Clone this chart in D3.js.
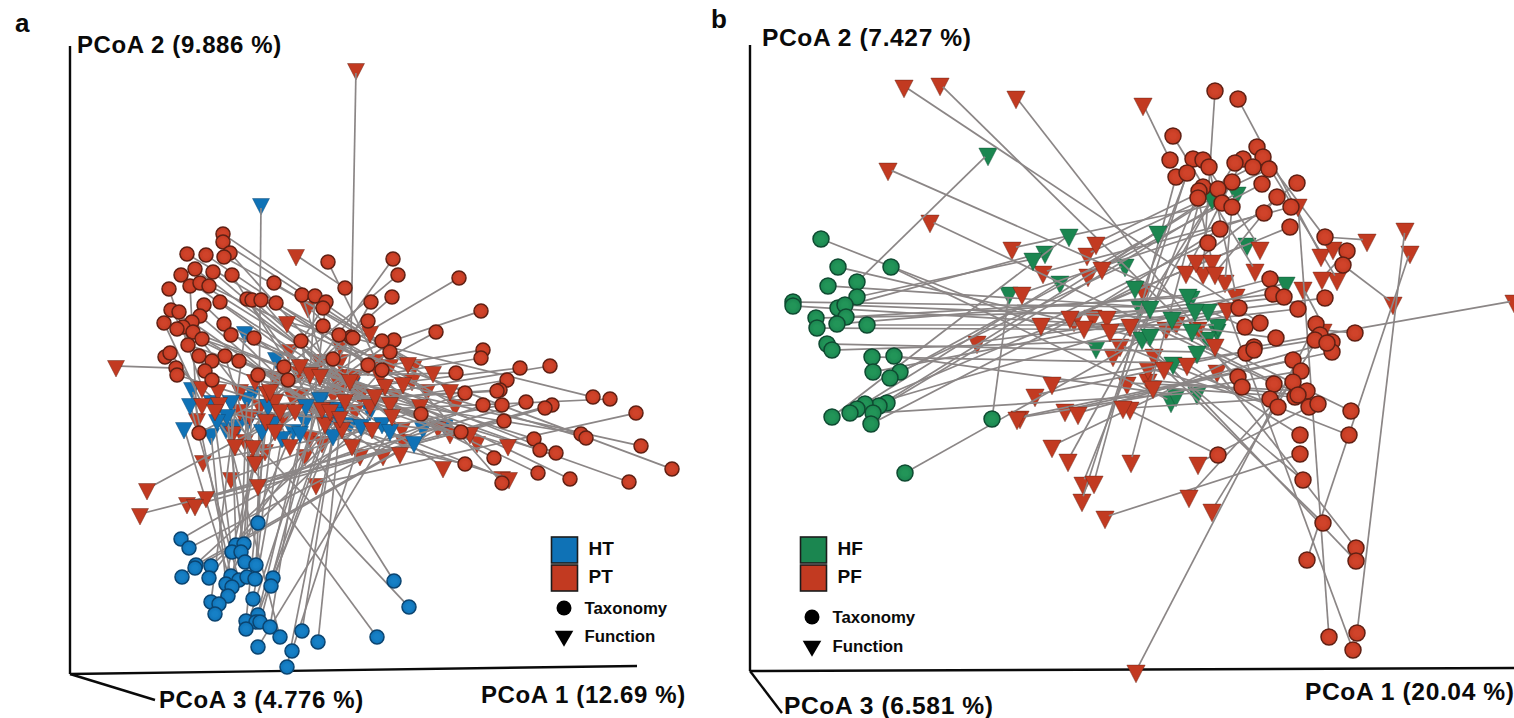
<!DOCTYPE html>
<html>
<head>
<meta charset="utf-8">
<script src="https://cdnjs.cloudflare.com/ajax/libs/d3/7.8.5/d3.min.js"></script>
<style>
  html, body { margin: 0; padding: 0; background: #fff; overflow: hidden; }
  text { font-family: "Liberation Sans", Arial, sans-serif; font-weight: bold; fill: #0a0a0a; }
</style>
</head>
<body>
<div id="canvas"></div>
<script>
// axis titles, one list per panel: vertical, depth, horizontal
var axisTitlesA = ["PCoA 2 (9.886 %)", "PCoA 3 (4.776 %)", "PCoA 1 (12.69 %)"];
var axisTitlesB = ["PCoA 2 (7.427 %)", "PCoA 3 (6.581 %)", "PCoA 1 (20.04 %)"];
var legendA = ["HT", "PT"];
var legendB = ["HF", "PF"];
var shapeNames = ["Taxonomy", "Function"];

// scores as [PCoA 1, PCoA 2], in units along each drawn axis.
// taxonomy and function lists run in the same order, entry i of one joins entry i of the other
var htTaxonomy = [[188,151],[111,135],[119,126],[166,129],[174,130],[162,122],[171,122],[175,112],[186,109],[126,109],[125,106],[141,108],[112,97],[139,96],[161,98],[169,94],[177,97],[185,95],[203,96],[201,88],[156,90],[162,87],[158,78],[183,75],[141,72],[149,70],[145,60],[324,93],[339,67],[307,37],[188,59],[176,53],[186,52],[190,52],[176,45],[200,47],[210,37],[232,43],[248,32],[188,27],[222,23],[217,7]];
var htFunction = [[191,470],[312,251],[353,246],[161,273],[183,282],[142,273],[177,276],[157,259],[194,256],[344,232],[375,249],[291,249],[280,251],[268,266],[122,286],[120,270],[178,254],[203,252],[282,291],[265,266],[141,240],[114,246],[206,316],[212,237],[175,342],[192,244],[223,244],[230,242],[168,249],[147,254],[258,254],[198,269],[235,254],[250,276],[252,277],[236,269],[156,246],[267,261],[270,249],[320,244],[300,264],[263,239]];

var ptTaxonomy = [[153,440],[153,432],[160,421],[117,420],[136,419],[154,417],[125,405],[143,402],[111,399],[162,399],[120,388],[130,391],[139,388],[204,391],[258,412],[275,386],[323,415],[99,385],[232,379],[245,378],[256,372],[253,366],[301,372],[322,377],[328,399],[177,375],[182,374],[191,374],[206,371],[150,372],[134,369],[101,364],[109,362],[130,358],[122,352],[113,347],[107,345],[94,351],[154,350],[161,339],[123,342],[132,335],[253,348],[298,353],[281,337],[269,339],[324,334],[312,333],[118,329],[184,336],[231,333],[95,317],[100,321],[129,318],[155,318],[169,313],[142,313],[106,306],[107,299],[135,303],[142,294],[389,396],[411,363],[366,342],[413,324],[411,316],[450,306],[480,308],[386,301],[437,294],[430,284],[427,283],[395,281],[523,277],[540,275],[413,269],[432,269],[456,272],[482,269],[475,266],[566,261],[434,253],[351,260],[511,240],[516,236],[464,235],[391,242],[571,228],[470,224],[486,221],[424,216],[395,210],[602,205],[468,201],[500,195],[559,192],[432,191],[214,307],[218,294],[188,299],[263,315],[298,309],[312,304],[320,322],[129,241],[283,336]];
var ptFunction = [[344,309],[338,311],[270,299],[333,291],[298,309],[363,302],[288,284],[300,269],[270,284],[255,251],[127,255],[320,271],[357,284],[380,284],[306,314],[226,419],[223,277],[132,287],[263,281],[240,301],[240,237],[197,282],[242,269],[205,274],[205,297],[272,246],[332,246],[302,246],[385,269],[322,259],[290,219],[148,284],[170,284],[282,229],[313,219],[330,221],[333,234],[132,270],[368,247],[350,269],[407,232],[400,241],[219,324],[300,342],[286,605],[252,266],[211,254],[196,254],[380,241],[373,207],[252,232],[149,271],[163,242],[183,228],[186,214],[438,229],[432,197],[46,308],[439,196],[225,264],[285,264],[200,284],[230,302],[77,185],[320,309],[310,299],[230,279],[210,264],[285,299],[260,264],[190,269],[275,274],[161,196],[217,352],[180,259],[188,189],[133,213],[136,177],[117,171],[125,169],[246,190],[70,160],[238,367],[185,294],[250,314],[280,294],[170,264],[250,299],[290,279],[315,289],[265,299],[145,264],[270,329],[305,279],[325,279],[230,309],[342,294],[185,212],[175,234],[220,229],[195,224],[165,229],[235,219],[205,244],[270,314],[270,257]];

var hfTaxonomy = [[71,432],[88,404],[141,404],[78,385],[107,389],[107,374],[43,369],[43,365],[88,363],[95,366],[96,354],[66,353],[67,343],[87,347],[117,346],[77,327],[82,321],[122,314],[144,315],[123,299],[150,299],[140,293],[137,268],[129,265],[115,267],[107,262],[100,258],[82,254],[123,258],[121,247],[242,252],[155,198]];
var hfFunction = [[346,324],[392,333],[421,270],[400,364],[238,517],[283,412],[390,364],[442,341],[295,419],[422,353],[441,374],[458,361],[467,341],[438,376],[468,346],[447,319],[457,333],[423,308],[426,276],[445,361],[375,406],[408,439],[487,478],[462,473],[497,427],[536,388],[310,389],[319,436],[447,278],[385,384],[259,378],[400,336]];

var pfTaxonomy = [[465,580],[488,572],[423,535],[420,511],[443,512],[453,511],[459,504],[426,494],[437,498],[507,524],[513,514],[493,512],[485,508],[503,504],[519,502],[482,489],[512,487],[547,488],[453,484],[468,482],[449,480],[448,473],[472,468],[527,474],[541,464],[514,458],[482,464],[540,444],[470,442],[458,428],[575,434],[597,420],[593,406],[520,392],[523,377],[534,374],[575,373],[548,362],[489,363],[566,347],[495,344],[510,348],[526,333],[570,336],[582,329],[605,338],[504,324],[496,318],[504,321],[565,331],[582,319],[577,328],[543,311],[551,300],[488,294],[492,284],[524,287],[543,289],[557,280],[545,274],[548,276],[520,272],[528,264],[559,264],[568,267],[601,260],[599,236],[550,236],[550,217],[468,216],[553,191],[573,148],[606,123],[606,110],[557,111],[579,34],[607,38],[603,21]];
var pfFunction = [[453,398],[571,416],[505,401],[393,567],[393,381],[510,423],[486,376],[344,189],[332,171],[583,423],[587,392],[436,399],[363,316],[346,428],[337,417],[352,403],[338,396],[446,410],[381,210],[318,211],[333,188],[462,410],[262,423],[465,398],[293,399],[272,378],[475,390],[320,354],[324,351],[291,347],[617,431],[572,393],[643,368],[334,344],[343,355],[357,354],[227,329],[360,341],[426,348],[386,0],[138,502],[154,585],[448,343],[462,161],[553,383],[573,341],[764,370],[302,225],[285,276],[302,288],[315,261],[328,258],[270,254],[267,253],[190,587],[266,574],[180,450],[439,175],[377,288],[403,284],[398,291],[380,263],[398,303],[448,208],[416,343],[465,326],[370,326],[437,307],[355,154],[373,264],[404,316],[414,303],[467,300],[380,346],[660,419],[548,466],[655,442],[477,362]];

// colours of the groups: fill, outline
var blue = { fill: "#0f72b6", line: "#0b4470", light: "#1680c6" };
var red = { fill: "#c23a21", line: "#5f2014", light: "#d0432a" };
var green = { fill: "#1b8650", line: "#0f4a31", light: "#229558" };
var lineGrey = "#8b8686";

var svg = d3.select("#canvas")
    .append("svg")
    .attr("width", 1514)
    .attr("height", 718)
    .style("display", "block")
    .style("background-color", "#fff");

// soft shading of the spheres
var defs = svg.append("defs");
[["blue", blue], ["red", red], ["green", green]].forEach(function(c) {
    var grad = defs.append("radialGradient").attr("id", "ball-" + c[0]);
    grad.append("stop").attr("offset", "35%").attr("stop-color", c[1].light);
    grad.append("stop").attr("offset", "100%").attr("stop-color", c[1].fill);
});

var triangle = d3.symbol().type(d3.symbolTriangle);

// draws the triangles, joining lines and circles of one panel
function drawPanel(p) {
    var x = d3.scaleLinear().domain(p.xDomain).range([p.origin[0], p.xEnd[0]]);
    var y = d3.scaleLinear().domain(p.yDomain).range([p.origin[1], p.yEnd]);
    var g = svg.append("g");

    // axes of the 3d box
    var axes = g.append("g").attr("stroke", "#0a0a0a").attr("stroke-width", 2.4);
    axes.append("line").attr("x1", p.origin[0]).attr("y1", p.yEnd).attr("x2", p.origin[0]).attr("y2", p.origin[1]);
    axes.append("line").attr("x1", p.origin[0]).attr("y1", p.origin[1]).attr("x2", p.xEnd[0]).attr("y2", p.xEnd[1]);
    axes.append("line").attr("x1", p.origin[0]).attr("y1", p.origin[1]).attr("x2", p.zEnd[0]).attr("y2", p.zEnd[1]);

    // the original is a 3d view, so some function markers sit behind the lines and some in front
    function drawTriangles(s, keep) {
        g.append("g").selectAll("path")
            .data(s.functions.filter(function(d, i) { return i % 2 == keep; }))
            .enter()
            .append("path")
            .attr("d", triangle.size(p.triSize))
            .attr("transform", function(d) { return "translate(" + x(d[0]) + "," + y(d[1]) + ") rotate(180) scale(1,1.12)"; })
            .attr("fill", s.color.fill)
            .attr("stroke", s.color.line)
            .attr("stroke-opacity", 0.5)
            .attr("stroke-width", 0.8);
    }

    p.groups.forEach(function(s) { drawTriangles(s, 0); });

    // lines stop at the edge of their markers
    p.groups.forEach(function(s) {
        var pairs = d3.zip(s.taxonomy, s.functions);
        g.append("g").selectAll("line")
            .data(pairs)
            .enter()
            .append("line")
            .attr("stroke", lineGrey)
            .attr("stroke-width", 1.7)
            .each(function(d) {
                var x1 = x(d[0][0]), y1 = y(d[0][1]), x2 = x(d[1][0]), y2 = y(d[1][1]);
                var len = Math.hypot(x2 - x1, y2 - y1) || 1;
                var cut = Math.min(p.radius - 1, len / 2), cut2 = Math.min(4, len / 2);
                d3.select(this)
                    .attr("x1", x1 + (x2 - x1) * cut / len)
                    .attr("y1", y1 + (y2 - y1) * cut / len)
                    .attr("x2", x2 - (x2 - x1) * cut2 / len)
                    .attr("y2", y2 - (y2 - y1) * cut2 / len);
            });
    });

    p.groups.forEach(function(s) { drawTriangles(s, 1); });

    // taxonomy markers on top
    p.groups.forEach(function(s) {
        g.append("g").selectAll("circle")
            .data(s.taxonomy)
            .enter()
            .append("circle")
            .attr("cx", function(d) { return x(d[0]); })
            .attr("cy", function(d) { return y(d[1]); })
            .attr("r", p.radius)
            .attr("fill", "url(#ball-" + s.name + ")")
            .attr("stroke", s.color.line)
            .attr("stroke-width", 1.5);
    });

    // panel letter and axis titles
    g.append("text").attr("x", p.letter[0]).attr("y", p.letter[1]).style("font-size", "26px").text(p.letter[2]);
    g.selectAll(".axis-title")
        .data(p.titles)
        .enter()
        .append("text")
        .attr("class", "axis-title")
        .attr("x", function(d, i) { return p.titlePos[i][0]; })
        .attr("y", function(d, i) { return p.titlePos[i][1]; })
        .style("font-size", p.titleSize)
        .style("letter-spacing", "0.6px")
        .text(function(d) { return d; });

    // legend: group swatches then marker shapes
    var lg = g.append("g");
    lg.selectAll("rect")
        .data(p.legend)
        .enter()
        .append("rect")
        .attr("x", p.legendX)
        .attr("y", function(d, i) { return 537 + i * 28; })
        .attr("width", 26)
        .attr("height", 26)
        .attr("fill", function(d, i) { return p.legendColors[i].fill; })
        .attr("stroke", "#1c1c1c")
        .attr("stroke-width", 1.6);
    lg.selectAll(".group-name")
        .data(p.legend)
        .enter()
        .append("text")
        .attr("class", "group-name")
        .attr("x", p.legendX + 37)
        .attr("y", function(d, i) { return 555 + i * 27.5; })
        .style("font-size", "19px")
        .text(function(d) { return d; });
    lg.append("circle").attr("cx", p.shapeX).attr("cy", p.shapeY[0]).attr("r", 7.5).attr("fill", "#000");
    lg.append("path")
        .attr("d", triangle.size(150))
        .attr("transform", "translate(" + p.shapeX + "," + p.shapeY[1] + ") rotate(180)")
        .attr("fill", "#000");
    lg.selectAll(".shape-name")
        .data(shapeNames)
        .enter()
        .append("text")
        .attr("class", "shape-name")
        .attr("x", p.shapeX + 20.5)
        .attr("y", function(d, i) { return p.shapeY[i] + 5.5; })
        .style("font-size", "16.8px")
        .text(function(d) { return d; });
}

drawPanel({
    origin: [70, 674], xEnd: [637, 666], yEnd: 46, zEnd: [155, 700],
    xDomain: [0, 567], yDomain: [0, 628],
    radius: 7, triSize: 125,
    letter: [15, 32, "a"],
    titles: axisTitlesA, titleSize: "24px",
    titlePos: [[77, 53], [159, 708], [481, 703]],
    legend: legendA, legendColors: [blue, red], legendX: 551.5, shapeX: 564, shapeY: [608, 636],
    groups: [
        { name: "blue", color: blue, taxonomy: htTaxonomy, functions: htFunction },
        { name: "red", color: red, taxonomy: ptTaxonomy, functions: ptFunction }
    ]
});

drawPanel({
    origin: [750, 671], xEnd: [1514, 668], yEnd: 45, zEnd: [782, 713],
    xDomain: [0, 764], yDomain: [0, 626],
    radius: 8, triSize: 145,
    letter: [711, 28, "b"],
    titles: axisTitlesB, titleSize: "24.6px",
    titlePos: [[762, 46], [784, 714], [1305, 700]],
    legend: legendB, legendColors: [green, red], legendX: 800.5, shapeX: 812, shapeY: [617, 646],
    groups: [
        { name: "green", color: green, taxonomy: hfTaxonomy, functions: hfFunction },
        { name: "red", color: red, taxonomy: pfTaxonomy, functions: pfFunction }
    ]
});
</script>
</body>
</html>
